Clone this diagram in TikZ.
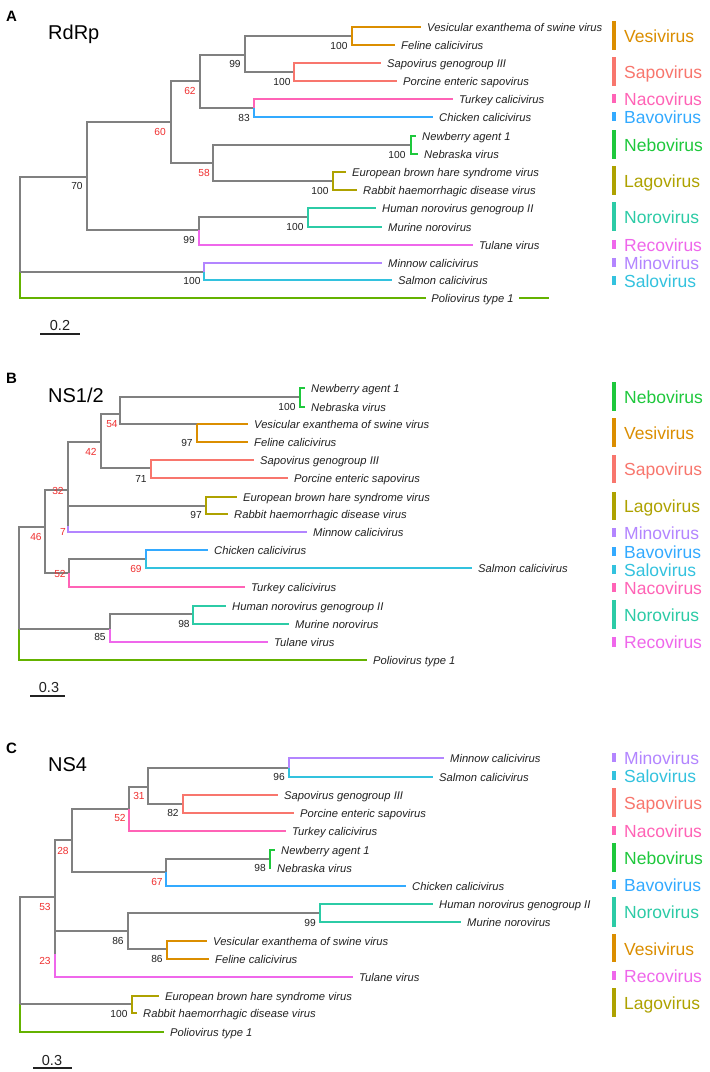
\documentclass[tikz,border=0pt]{standalone}
\usepackage{fontspec}
\setmainfont{Liberation Sans}
\definecolor{ves}{HTML}{DB8E00}
\definecolor{sapo}{HTML}{F8766D}
\definecolor{naco}{HTML}{FF63B6}
\definecolor{bavo}{HTML}{33AAFF}
\definecolor{nebo}{HTML}{1EC83C}
\definecolor{lago}{HTML}{AEA200}
\definecolor{noro}{HTML}{2CCBA6}
\definecolor{reco}{HTML}{EF67EB}
\definecolor{mino}{HTML}{B385FF}
\definecolor{salo}{HTML}{33C2DE}
\definecolor{polio}{HTML}{64B200}
\definecolor{brgray}{HTML}{808080}
\definecolor{bsred}{HTML}{F03030}
\definecolor{ink}{HTML}{222222}
\tikzset{
  br/.style={line width=2.8pt},
  tiplab/.style={font=\fontsize{11.2}{13}\selectfont\itshape, inner sep=0pt, text=ink},
  bs/.style={font=\fontsize{10.2}{12}\selectfont, inner sep=0pt, anchor=base, text=ink},
  leg/.style={font=\fontsize{17.5}{20}\selectfont, inner sep=0pt, anchor=base west},
  gbar/.style={line width=3.8pt},
  sbar/.style={line width=1.4pt, draw=ink},
  scl/.style={font=\fontsize{14.5}{16}\selectfont, inner sep=0pt, anchor=base, text=ink},
  ttl/.style={font=\fontsize{20}{24}\selectfont, inner sep=0pt, anchor=base west, text=black},
  plet/.style={font=\fontsize{15}{18}\selectfont\bfseries, inner sep=0pt, anchor=base west, text=black}
}
\newcommand\brn[3]{\draw[br,#1] (#2) |- (#3);}
\newcommand\tipl[6]{\coordinate (#1e) at (#4,#5); \draw[br,#2] (#3) |- (#1e); \node[tiplab,anchor=base west] (#1) at ({#4+6},{#5+4}) {#6};}
\newcommand\bsl[5]{\node[bs,#5] (#1) at (#2,{#3+3.6}) {#4};}
\newcommand\genbar[6]{\coordinate (#1t) at (614,#3); \coordinate (#1b) at (614,#4); \draw[gbar,#2] (#1t) -- (#1b); \node[leg,text=#2] (#1l) at (624,{#5+6.3}) {#6};}
\begin{document}
\begin{tikzpicture}[x=1pt,y=-1pt]
\useasboundingbox[fill=white] (0,0) rectangle (710,1072);
% ================= Panel A =================
\node[plet] (PA) at (6,21) {A};
\node[ttl] (TA) at (48,39) {RdRp};
\coordinate (Ar) at (20,272);
\coordinate (A70) at (87,177);
\coordinate (A60) at (171,122);
\coordinate (A62) at (200,81);
\coordinate (A99a) at (245,55);
\coordinate (Aves) at (352,36);
\coordinate (Asap) at (294,72);
\coordinate (A83) at (254,108);
\coordinate (A58) at (213,163);
\coordinate (Aneb) at (411,145);
\coordinate (Alag) at (333,181);
\coordinate (A99b) at (199,230);
\coordinate (Anor) at (308,217);
\coordinate (Amm) at (204,272);
\coordinate (Apole) at (549,298);
\draw[br,polio] (Ar) |- (Apole);
\node[tiplab,fill=white,inner xsep=5pt,inner ysep=2pt,anchor=base] (Apol) at (472.5,302) {Poliovirus type 1};
\brn{brgray}{Ar}{A70}
\brn{brgray}{Ar}{Amm}
\brn{brgray}{A70}{A60}
\brn{brgray}{A70}{A99b}
\brn{brgray}{A60}{A62}
\brn{brgray}{A60}{A58}
\brn{brgray}{A62}{A99a}
\brn{brgray}{A62}{A83}
\brn{brgray}{A99a}{Aves}
\brn{brgray}{A99a}{Asap}
\brn{brgray}{A58}{Aneb}
\brn{brgray}{A58}{Alag}
\brn{brgray}{A99b}{Anor}
\tipl{AtVes}{ves}{Aves}{421}{27}{Vesicular exanthema of swine virus}
\tipl{AtFel}{ves}{Aves}{395}{45}{Feline calicivirus}
\tipl{AtSap}{sapo}{Asap}{381}{63}{Sapovirus genogroup III}
\tipl{AtPor}{sapo}{Asap}{397}{81}{Porcine enteric sapovirus}
\tipl{AtTur}{naco}{A83}{453}{99}{Turkey calicivirus}
\tipl{AtChi}{bavo}{A83}{433}{117}{Chicken calicivirus}
\tipl{AtNew}{nebo}{Aneb}{416}{136}{Newberry agent 1}
\tipl{AtNeb}{nebo}{Aneb}{418}{154}{Nebraska virus}
\tipl{AtEbh}{lago}{Alag}{346}{172}{European brown hare syndrome virus}
\tipl{AtRhd}{lago}{Alag}{357}{190}{Rabbit haemorrhagic disease virus}
\tipl{AtHum}{noro}{Anor}{376}{208}{Human norovirus genogroup II}
\tipl{AtMur}{noro}{Anor}{382}{227}{Murine norovirus}
\tipl{AtTul}{reco}{A99b}{473}{245}{Tulane virus}
\tipl{AtMin}{mino}{Amm}{382}{263}{Minnow calicivirus}
\tipl{AtSal}{salo}{Amm}{392}{280}{Salmon calicivirus}
\bsl{Ab70}{77}{186}{70}{}
\bsl{Ab60}{160}{132}{60}{text=bsred}
\bsl{Ab62}{190}{91}{62}{text=bsred}
\bsl{Ab99a}{235}{64}{99}{}
\bsl{AbVes}{339}{46}{100}{}
\bsl{AbSap}{282}{82}{100}{}
\bsl{Ab83}{244}{118}{83}{}
\bsl{Ab58}{204}{173}{58}{text=bsred}
\bsl{AbNeb}{397}{155}{100}{}
\bsl{AbLag}{320}{191}{100}{}
\bsl{Ab99b}{189}{240}{99}{}
\bsl{AbNor}{295}{227}{100}{}
\bsl{AbMm}{192}{281}{100}{}
\coordinate (sA1) at (40,334); \coordinate (sA2) at (80,334);
\draw[sbar] (sA1) -- (sA2);
\node[scl] (sAl) at (60,330) {0.2};
\genbar{LAves}{ves}{21}{50}{36}{Vesivirus}
\genbar{LAsap}{sapo}{57}{86}{72}{Sapovirus}
\genbar{LAnac}{naco}{94}{103}{99}{Nacovirus}
\genbar{LAbav}{bavo}{112}{121}{117}{Bavovirus}
\genbar{LAneb}{nebo}{130}{159}{145}{Nebovirus}
\genbar{LAlag}{lago}{166}{195}{181}{Lagovirus}
\genbar{LAnor}{noro}{202}{231}{217}{Norovirus}
\genbar{LArec}{reco}{240}{249}{245}{Recovirus}
\genbar{LAmin}{mino}{258}{267}{263}{Minovirus}
\genbar{LAsal}{salo}{276}{285}{281}{Salovirus}
% ================= Panel B =================
\node[plet] (PB) at (6,383) {B};
\node[ttl] (TB) at (48,402) {NS1/2};
\coordinate (Br) at (19,629);
\coordinate (B46) at (45,527);
\coordinate (B32) at (68,490);
\coordinate (B42) at (101,442);
\coordinate (B54) at (120,414);
\coordinate (Bneb) at (300,397);
\coordinate (Bves) at (197,424);
\coordinate (B71) at (151,468);
\coordinate (B7) at (68,526);
\coordinate (Blag) at (206,506);
\coordinate (B52) at (69,573);
\coordinate (B69) at (146,559);
\coordinate (B85) at (110,629);
\coordinate (B98) at (193,614);
\tipl{BtPol}{polio}{Br}{367}{660}{Poliovirus type 1}
\brn{brgray}{Br}{B46}
\brn{brgray}{Br}{B85}
\brn{brgray}{B46}{B32}
\brn{brgray}{B46}{B52}
\brn{brgray}{B32}{B42}
\brn{brgray}{B32}{B7}
\brn{brgray}{B42}{B54}
\brn{brgray}{B42}{B71}
\brn{brgray}{B54}{Bneb}
\brn{brgray}{B54}{Bves}
\brn{brgray}{B7}{Blag}
\brn{brgray}{B52}{B69}
\brn{brgray}{B85}{B98}
\tipl{BtNew}{nebo}{Bneb}{305}{388}{Newberry agent 1}
\tipl{BtNeb}{nebo}{Bneb}{305}{407}{Nebraska virus}
\tipl{BtVes}{ves}{Bves}{248}{424}{Vesicular exanthema of swine virus}
\tipl{BtFel}{ves}{Bves}{248}{442}{Feline calicivirus}
\tipl{BtSap}{sapo}{B71}{254}{460}{Sapovirus genogroup III}
\tipl{BtPor}{sapo}{B71}{288}{478}{Porcine enteric sapovirus}
\tipl{BtEbh}{lago}{Blag}{237}{497}{European brown hare syndrome virus}
\tipl{BtRhd}{lago}{Blag}{228}{514}{Rabbit haemorrhagic disease virus}
\tipl{BtMin}{mino}{B7}{307}{532}{Minnow calicivirus}
\tipl{BtChi}{bavo}{B69}{208}{550}{Chicken calicivirus}
\tipl{BtSal}{salo}{B69}{472}{568}{Salmon calicivirus}
\tipl{BtTur}{naco}{B52}{245}{587}{Turkey calicivirus}
\tipl{BtHum}{noro}{B98}{226}{606}{Human norovirus genogroup II}
\tipl{BtMur}{noro}{B98}{289}{624}{Murine norovirus}
\tipl{BtTul}{reco}{B85}{268}{642}{Tulane virus}
\bsl{Bb46}{36}{537}{46}{text=bsred}
\bsl{Bb32}{58}{491}{32}{text=bsred}
\bsl{Bb7}{63}{532}{7}{text=bsred}
\bsl{Bb42}{91}{452}{42}{text=bsred}
\bsl{Bb54}{112}{424}{54}{text=bsred}
\bsl{BbNeb}{287}{407}{100}{}
\bsl{BbVes}{187}{443}{97}{}
\bsl{Bb71}{141}{479}{71}{}
\bsl{BbLag}{196}{515}{97}{}
\bsl{Bb69}{136}{569}{69}{text=bsred}
\bsl{Bb52}{60}{574}{52}{text=bsred}
\bsl{Bb85}{100}{637}{85}{}
\bsl{Bb98}{184}{624}{98}{}
\coordinate (sB1) at (30,696); \coordinate (sB2) at (65,696);
\draw[sbar] (sB1) -- (sB2);
\node[scl] (sBl) at (49,692) {0.3};
\genbar{LBneb}{nebo}{382}{411}{397}{Nebovirus}
\genbar{LBves}{ves}{418}{447}{433}{Vesivirus}
\genbar{LBsap}{sapo}{455}{483}{469}{Sapovirus}
\genbar{LBlag}{lago}{492}{520}{506}{Lagovirus}
\genbar{LBmin}{mino}{528}{537}{533}{Minovirus}
\genbar{LBbav}{bavo}{547}{556}{552}{Bavovirus}
\genbar{LBsal}{salo}{565}{574}{570}{Salovirus}
\genbar{LBnac}{naco}{583}{592}{588}{Nacovirus}
\genbar{LBnor}{noro}{600}{629}{615}{Norovirus}
\genbar{LBrec}{reco}{637}{647}{642}{Recovirus}
% ================= Panel C =================
\node[plet] (PC) at (6,753) {C};
\node[ttl] (TC) at (48,771) {NS4};
\coordinate (Cr) at (20,1004);
\coordinate (C53) at (55,897);
\coordinate (C23) at (55,954);
\coordinate (C28) at (72,840);
\coordinate (C52) at (129,809);
\coordinate (C31) at (148,787);
\coordinate (C96) at (289,768);
\coordinate (C82) at (183,804);
\coordinate (C67) at (166,872);
\coordinate (Cneb) at (270,859);
\coordinate (C86a) at (128,931);
\coordinate (C99) at (320,913);
\coordinate (Cves) at (167,949);
\coordinate (Clag) at (132,1004);
\tipl{CtPol}{polio}{Cr}{164}{1032}{Poliovirus type 1}
\tipl{CtTul}{reco}{C23}{353}{977}{Tulane virus}
\brn{brgray}{Cr}{C53}
\brn{brgray}{Cr}{Clag}
\brn{brgray}{C53}{C28}
\brn{brgray}{C53}{C23}
\brn{brgray}{C23}{C86a}
\brn{brgray}{C28}{C52}
\brn{brgray}{C28}{C67}
\brn{brgray}{C52}{C31}
\brn{brgray}{C31}{C96}
\brn{brgray}{C31}{C82}
\brn{brgray}{C67}{Cneb}
\brn{brgray}{C86a}{C99}
\brn{brgray}{C86a}{Cves}
\tipl{CtMin}{mino}{C96}{444}{758}{Minnow calicivirus}
\tipl{CtSal}{salo}{C96}{433}{777}{Salmon calicivirus}
\tipl{CtSap}{sapo}{C82}{278}{795}{Sapovirus genogroup III}
\tipl{CtPor}{sapo}{C82}{294}{813}{Porcine enteric sapovirus}
\tipl{CtTur}{naco}{C52}{286}{831}{Turkey calicivirus}
\tipl{CtNew}{nebo}{Cneb}{275}{850}{Newberry agent 1}
\tipl{CtNeb}{nebo}{Cneb}{271}{868}{Nebraska virus}
\tipl{CtChi}{bavo}{C67}{406}{886}{Chicken calicivirus}
\tipl{CtHum}{noro}{C99}{433}{904}{Human norovirus genogroup II}
\tipl{CtMur}{noro}{C99}{461}{922}{Murine norovirus}
\tipl{CtVes}{ves}{Cves}{207}{941}{Vesicular exanthema of swine virus}
\tipl{CtFel}{ves}{Cves}{209}{959}{Feline calicivirus}
\tipl{CtEbh}{lago}{Clag}{159}{996}{European brown hare syndrome virus}
\tipl{CtRhd}{lago}{Clag}{137}{1013}{Rabbit haemorrhagic disease virus}
\bsl{Cb53}{45}{907}{53}{text=bsred}
\bsl{Cb23}{45}{961}{23}{text=bsred}
\bsl{Cb28}{63}{851}{28}{text=bsred}
\bsl{Cb52}{120}{818}{52}{text=bsred}
\bsl{Cb31}{139}{796}{31}{text=bsred}
\bsl{Cb96}{279}{777}{96}{}
\bsl{Cb82}{173}{813}{82}{}
\bsl{Cb67}{157}{882}{67}{text=bsred}
\bsl{CbNeb}{260}{868}{98}{}
\bsl{Cb86a}{118}{941}{86}{}
\bsl{Cb99}{310}{923}{99}{}
\bsl{CbVes}{157}{959}{86}{}
\bsl{CbLag}{119}{1014}{100}{}
\coordinate (sC1) at (33,1068); \coordinate (sC2) at (72,1068);
\draw[sbar] (sC1) -- (sC2);
\node[scl] (sCl) at (52,1065) {0.3};
\genbar{LCmin}{mino}{753}{762}{758}{Minovirus}
\genbar{LCsal}{salo}{771}{780}{776}{Salovirus}
\genbar{LCsap}{sapo}{788}{817}{803}{Sapovirus}
\genbar{LCnac}{naco}{826}{835}{831}{Nacovirus}
\genbar{LCneb}{nebo}{843}{872}{858}{Nebovirus}
\genbar{LCbav}{bavo}{880}{889}{885}{Bavovirus}
\genbar{LCnor}{noro}{897}{927}{912}{Norovirus}
\genbar{LCves}{ves}{934}{962}{949}{Vesivirus}
\genbar{LCrec}{reco}{971}{980}{976}{Recovirus}
\genbar{LClag}{lago}{988}{1017}{1003}{Lagovirus}
\end{tikzpicture}
\end{document}
